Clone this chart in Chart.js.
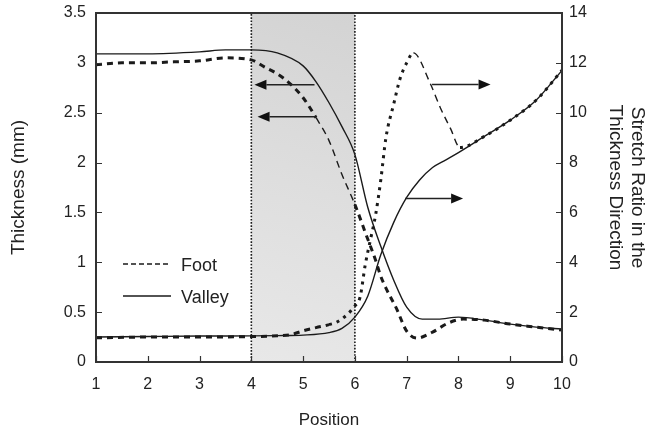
<!DOCTYPE html>
<html>
<head>
<meta charset="utf-8">
<script src="https://cdn.jsdelivr.net/npm/chart.js@4.4.0/dist/chart.umd.min.js"></script>
<style>
  html, body { margin: 0; padding: 0; background: #ffffff; }
  #wrap { width: 648px; height: 434px; }
</style>
</head>
<body>
<div id="wrap"><canvas id="c" width="648" height="434"></canvas></div>
<script>
// Thickness (mm) along the part, left axis
const footThicknessPos   = [1, 1.5, 2, 2.5, 3, 3.5, 4, 4.25, 4.5, 4.75, 5, 5.25, 5.5, 5.75, 6, 6.2, 6.4, 6.5, 6.6, 6.8, 7, 7.2, 7.5, 7.8, 8.1, 8.5, 9, 9.5, 10];
const footThickness      = [2.98, 3.0, 3.0, 3.01, 3.02, 3.05, 3.03, 2.96, 2.89, 2.79, 2.65, 2.45, 2.22, 1.88, 1.58, 1.3, 1.02, 0.86, 0.74, 0.54, 0.31, 0.24, 0.30, 0.39, 0.43, 0.42, 0.38, 0.35, 0.32];
const valleyThicknessPos = [1, 2, 3, 3.5, 4, 4.5, 5, 5.25, 5.5, 5.75, 6, 6.25, 6.5, 6.75, 7, 7.3, 7.6, 8, 8.5, 9, 9.5, 10];
const valleyThickness    = [3.09, 3.09, 3.11, 3.13, 3.13, 3.10, 2.97, 2.81, 2.6, 2.36, 2.08, 1.55, 1.16, 0.82, 0.55, 0.43, 0.43, 0.45, 0.42, 0.38, 0.35, 0.33];

// Stretch ratio in the thickness direction, right axis
const footStretchPos     = [1, 2, 3, 4, 4.5, 4.75, 5, 5.25, 5.5, 5.65, 5.85, 6, 6.1, 6.2, 6.3, 6.4, 6.5, 6.6, 6.75, 6.87, 7.0, 7.13, 7.45, 7.65, 7.85, 8.03, 8.5, 9, 9.5, 10];
const footStretch        = [0.97, 1.0, 1.0, 1.02, 1.05, 1.09, 1.25, 1.38, 1.5, 1.6, 1.9, 2.25, 2.6, 3.9, 4.9, 5.9, 7.3, 9.0, 10.35, 11.35, 12.0, 12.4, 11.2, 10.2, 9.35, 8.6, 9.05, 9.7, 10.5, 11.7];
const valleyStretchPos   = [1, 2, 3, 4, 4.5, 5, 5.5, 5.75, 6, 6.25, 6.5, 6.75, 7, 7.25, 7.5, 7.75, 8, 8.5, 9, 9.5, 10];
const valleyStretch      = [1.0, 1.02, 1.04, 1.05, 1.06, 1.08, 1.18, 1.35, 1.8, 2.65, 4.3, 5.6, 6.6, 7.3, 7.8, 8.1, 8.4, 9.05, 9.7, 10.5, 11.7];

// Axis ticks and labels
const positionTicks  = [1, 2, 3, 4, 5, 6, 7, 8, 9, 10];
const thicknessTicks = [0, 0.5, 1, 1.5, 2, 2.5, 3, 3.5];
const stretchTicks   = [0, 2, 4, 6, 8, 10, 12, 14];
const seriesNames    = ['Foot', 'Valley'];
const forming = [4, 6]; // shaded forming zone (position range)

const INK = '#1a1a1a';
const FONT = '"Liberation Sans", Arial, Helvetica, sans-serif';

const pts = (xs, ys) => xs.map((x, i) => ({ x: x, y: ys[i] }));

// Dash style helpers for the foot curves
const thick = { w: 3, dash: [6, 5] };
const dots  = { w: 3, dash: [3, 5] };
const thin  = { w: 1.4, dash: [7, 5] };
function footThicknessStyle(x) {
  if (x < 5.24) return thick;
  if (x < 5.95) return thin;
  return thick;
}
function footStretchStyle(x) {
  if (x < 5.5) return thick;
  if (x < 7.13) return dots;
  if (x < 8.0) return thin;
  return dots;
}

const shadePlugin = {
  id: 'shadeZone',
  beforeDatasetsDraw(chart) {
    const { ctx, chartArea: a, scales: { x } } = chart;
    const x0 = x.getPixelForValue(forming[0]);
    const x1 = x.getPixelForValue(forming[1]);
    ctx.save();
    const g = ctx.createLinearGradient(x0, a.bottom, x1, a.top);
    g.addColorStop(0, '#e8e8e8');
    g.addColorStop(0.5, '#dedede');
    g.addColorStop(1, '#d3d3d3');
    ctx.fillStyle = g;
    ctx.fillRect(x0, a.top, x1 - x0, a.bottom - a.top);
    ctx.strokeStyle = INK;
    ctx.lineWidth = 1.6;
    ctx.setLineDash([1.6, 1.6]);
    ctx.strokeRect(x0, a.top, x1 - x0, a.bottom - a.top);
    ctx.restore();
  }
};

const framePlugin = {
  id: 'frameTicks',
  afterDatasetsDraw(chart) {
    const { ctx, chartArea: a, scales } = chart;
    ctx.save();
    ctx.strokeStyle = '#333';
    ctx.lineWidth = 1.2;
    ctx.beginPath();
    thicknessTicks.forEach(v => {
      const y = Math.round(scales.y.getPixelForValue(v)) + 0.5;
      ctx.moveTo(a.left, y); ctx.lineTo(a.left + 6, y);
    });
    stretchTicks.forEach(v => {
      const y = Math.round(scales.y2.getPixelForValue(v)) + 0.5;
      ctx.moveTo(a.right, y); ctx.lineTo(a.right - 6, y);
    });
    positionTicks.forEach(v => {
      const xx = Math.round(scales.x.getPixelForValue(v)) + 0.5;
      ctx.moveTo(xx, a.bottom); ctx.lineTo(xx, a.bottom - 6);
    });
    ctx.stroke();
    ctx.lineWidth = 2;
    ctx.strokeRect(a.left, a.top, a.right - a.left, a.bottom - a.top);
    ctx.restore();
  }
};

// Arrows pointing each curve to its axis (data coordinates)
const arrowNotes = [
  { axis: 'y',  from: [5.22, 2.78], to: [4.06, 2.78] },
  { axis: 'y',  from: [5.24, 2.46], to: [4.12, 2.46] },
  { axis: 'y2', from: [7.49, 11.13], to: [8.62, 11.13] },
  { axis: 'y2', from: [6.97, 6.56], to: [8.09, 6.56] }
];

const arrowPlugin = {
  id: 'axisArrows',
  afterDatasetsDraw(chart) {
    const { ctx, scales } = chart;
    ctx.save();
    ctx.strokeStyle = '#222';
    ctx.fillStyle = '#111';
    ctx.lineWidth = 1.5;
    arrowNotes.forEach(n => {
      const ys = scales[n.axis];
      const x0 = scales.x.getPixelForValue(n.from[0]);
      const y0 = ys.getPixelForValue(n.from[1]);
      const x1 = scales.x.getPixelForValue(n.to[0]);
      const y1 = ys.getPixelForValue(n.to[1]);
      const dir = Math.sign(x1 - x0);
      const head = 12;
      ctx.beginPath();
      ctx.moveTo(x0, y0);
      ctx.lineTo(x1 - dir * head, y1);
      ctx.stroke();
      ctx.beginPath();
      ctx.moveTo(x1, y1);
      ctx.lineTo(x1 - dir * head, y1 - 5);
      ctx.lineTo(x1 - dir * head, y1 + 5);
      ctx.closePath();
      ctx.fill();
    });
    ctx.restore();
  }
};

const legendPlugin = {
  id: 'innerLegend',
  afterDatasetsDraw(chart) {
    const { ctx, chartArea: a } = chart;
    const rows = [
      { label: seriesNames[0], y: a.top + 251, dash: [5, 3] },
      { label: seriesNames[1], y: a.top + 283, dash: [] }
    ];
    ctx.save();
    ctx.font = '18px ' + FONT;
    ctx.textBaseline = 'middle';
    ctx.fillStyle = '#222';
    rows.forEach(r => {
      ctx.strokeStyle = INK;
      ctx.lineWidth = 1.5;
      ctx.setLineDash(r.dash);
      ctx.beginPath();
      ctx.moveTo(a.left + 27, r.y);
      ctx.lineTo(a.left + 75, r.y);
      ctx.stroke();
      ctx.fillText(r.label, a.left + 85, r.y + 2);
    });
    ctx.restore();
  }
};

const lineBase = {
  pointRadius: 0,
  pointHoverRadius: 0,
  borderColor: INK,
  fill: false,
  cubicInterpolationMode: 'monotone'
};

// Fixed scale boxes so the plot area sits at a known place
function fixBox(size, vertical) {
  return s => {
    if (vertical) s.width = size; else s.height = size;
    s.paddingTop = 0; s.paddingBottom = 0;
    s.paddingLeft = 0; s.paddingRight = 0;
  };
}

new Chart(document.getElementById('c'), {
  type: 'line',
  data: {
    datasets: [
      Object.assign({}, lineBase, {
        label: seriesNames[1] + ' thickness',
        data: pts(valleyThicknessPos, valleyThickness),
        yAxisID: 'y',
        borderWidth: 1.4
      }),
      Object.assign({}, lineBase, {
        label: seriesNames[1] + ' stretch ratio',
        data: pts(valleyStretchPos, valleyStretch),
        yAxisID: 'y2',
        borderWidth: 1.4
      }),
      Object.assign({}, lineBase, {
        label: seriesNames[0] + ' thickness',
        data: pts(footThicknessPos, footThickness),
        yAxisID: 'y',
        borderWidth: 3,
        borderCapStyle: 'butt',
        segment: {
          borderWidth: c => footThicknessStyle(c.p0.parsed.x).w,
          borderDash: c => footThicknessStyle(c.p0.parsed.x).dash
        }
      }),
      Object.assign({}, lineBase, {
        label: seriesNames[0] + ' stretch ratio',
        data: pts(footStretchPos, footStretch),
        yAxisID: 'y2',
        borderWidth: 3,
        borderCapStyle: 'butt',
        segment: {
          borderWidth: c => footStretchStyle(c.p0.parsed.x).w,
          borderDash: c => footStretchStyle(c.p0.parsed.x).dash
        }
      })
    ]
  },
  options: {
    responsive: false,
    animation: false,
    devicePixelRatio: 1,
    layout: { padding: { top: 13, left: 0, right: 0, bottom: 0 } },
    plugins: {
      legend: { display: false },
      tooltip: { enabled: false }
    },
    scales: {
      x: {
        type: 'linear',
        min: 1, max: 10,
        afterBuildTicks: s => { s.ticks = positionTicks.map(v => ({ value: v })); },
        afterFit: fixBox(72, false),
        grid: { display: false, drawTicks: false },
        border: { display: false },
        ticks: { color: '#222', padding: 13, font: { size: 16, family: FONT }, callback: v => String(v) },
        title: { display: true, text: 'Position', color: '#222', font: { size: 17, family: FONT }, padding: { top: 0, bottom: 3 } }
      },
      y: {
        type: 'linear',
        position: 'left',
        min: 0, max: 3.5,
        afterBuildTicks: s => { s.ticks = thicknessTicks.map(v => ({ value: v })); },
        afterFit: fixBox(96, true),
        grid: { display: false, drawTicks: false },
        border: { display: false },
        ticks: { color: '#222', padding: 10, font: { size: 16, family: FONT }, callback: v => String(v) },
        title: { display: true, text: 'Thickness (mm)', color: '#222', font: { size: 19, family: FONT, lineHeight: 1.15 }, padding: { top: 8, bottom: 0 } }
      },
      y2: {
        type: 'linear',
        position: 'right',
        min: 0, max: 14,
        afterBuildTicks: s => { s.ticks = stretchTicks.map(v => ({ value: v })); },
        afterFit: fixBox(86, true),
        grid: { display: false, drawTicks: false },
        border: { display: false },
        ticks: { color: '#222', padding: 7, font: { size: 16, family: FONT }, callback: v => String(v) },
        title: { display: true, text: ['Stretch Ratio in the', 'Thickness Direction'], color: '#222', font: { size: 19, family: FONT, lineHeight: 1.15 }, padding: { top: 0, bottom: 0 } }
      }
    }
  },
  plugins: [shadePlugin, framePlugin, arrowPlugin, legendPlugin]
});
</script>
</body>
</html>
